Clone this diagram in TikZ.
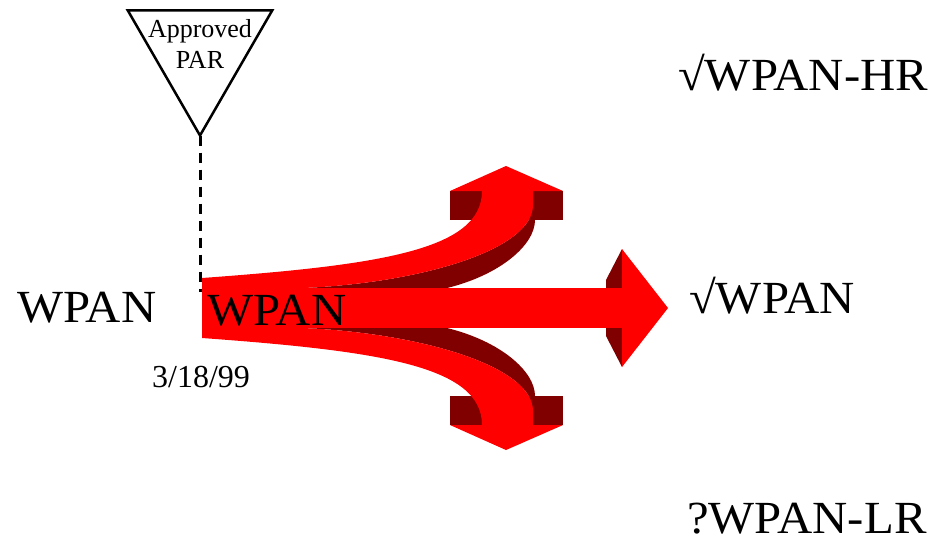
\documentclass[tikz,border=0pt]{standalone}
\usepackage{fontspec}
\setmainfont{Liberation Serif}
\newfontfamily\widefont{Liberation Serif}[FakeStretch=1.06]
\usetikzlibrary{shapes.geometric}
\definecolor{flowred}{RGB}{255,0,0}
\definecolor{flowside}{RGB}{128,0,0}

\begin{document}
\begin{tikzpicture}[x=1pt, y=-1pt,
    flow/.style={fill=flowred},
    side/.style={fill=flowside},
    bigtext/.style={font=\widefont\fontsize{46}{50}\selectfont, inner sep=0pt, anchor=base west},
    partri/.style={draw, line width=2.5pt, regular polygon, regular polygon sides=3,
        shape border rotate=180, minimum size=167pt, inner sep=0pt, outer sep=0pt},
    dashline/.style={line width=3pt, dash pattern=on 10pt off 7pt}]
    \useasboundingbox (0,0) rectangle (947,542);

    \node[partri] (par) at (200,52) {};
    \node[font=\fontsize{26}{31}\selectfont, align=center, anchor=base, inner sep=0pt] (partext) at (200,68) {Approved\\PAR};
    \coordinate (dashend) at (200,292);
    \draw[dashline] (par.corner 1) -- (dashend);

    \fill[side] (450,191) rectangle (563,220);
    \fill[side] (533,205) .. controls (533,250) and (420,283) .. (303,288) -- (447,288) .. controls (500,275) and (535,245) .. (535,220) -- cycle;
    \fill[flow] (202,278) .. controls (380,265) and (482,250) .. (482,191) -- (533,191) -- (533,205) .. controls (533,250) and (420,283) .. (303,288) -- (202,288) -- cycle;
    \fill[flow] (450,191) -- (506,166) -- (563,191) -- cycle;

    \begin{scope}[shift={(0,616)}, yscale=-1]
        \fill[side] (450,191) rectangle (563,220);
        \fill[side] (533,205) .. controls (533,250) and (420,283) .. (303,288) -- (447,288) .. controls (500,275) and (535,245) .. (535,220) -- cycle;
        \fill[flow] (202,278) .. controls (380,265) and (482,250) .. (482,191) -- (533,191) -- (533,205) .. controls (533,250) and (420,283) .. (303,288) -- (202,288) -- cycle;
        \fill[flow] (450,191) -- (506,166) -- (563,191) -- cycle;
    \end{scope}

    \fill[side] (606,280) -- (622,249) -- (622,367) -- (606,336) -- cycle;
    \fill[flow] (202,288) rectangle (622,328);
    \fill[flow] (622,249) -- (668,308) -- (622,367) -- cycle;

    \node[bigtext] (wpanold) at (17,322) {WPAN};
    \node[bigtext] (wpannew) at (207,325) {WPAN};
    \node[font=\fontsize{32}{36}\selectfont, inner sep=0pt, anchor=base west] (date) at (152,387) {3/18/99};
    \node[bigtext] (wpanhr) at (678,90) {√WPAN-HR};
    \node[bigtext] (wpanmid) at (689,313) {√WPAN};
    \node[bigtext] (wpanlr) at (687,533) {?WPAN-LR};
\end{tikzpicture}
\end{document}
